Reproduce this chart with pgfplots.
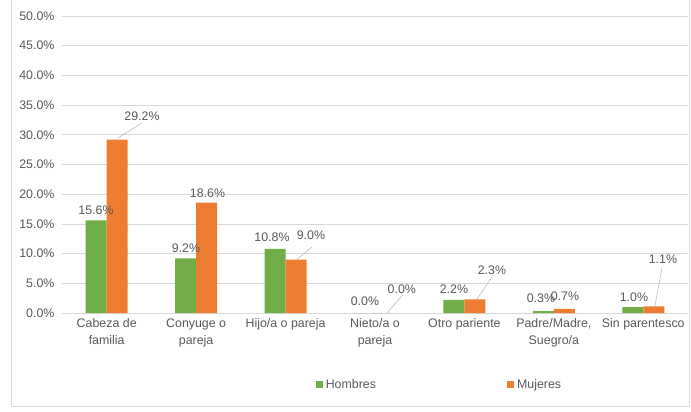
\documentclass[border=0pt]{standalone}
\usepackage{pgfplots}
\pgfplotsset{compat=1.18}
\usepackage{fontspec}
\setmainfont{Liberation Sans}
\definecolor{hom}{HTML}{70AD47}
\definecolor{muj}{HTML}{ED7D31}
\definecolor{txt}{HTML}{595959}
\definecolor{grd}{HTML}{D9D9D9}
\definecolor{lead}{HTML}{A6A6A6}
\begin{document}
\begin{tikzpicture}[font=\fontsize{12.4bp}{15bp}\selectfont]
\begin{axis}[
  scale only axis, width=626bp, height=297bp,
  ybar=0pt, bar width=21bp,
  xmin=-0.5, xmax=6.5, ymin=0, ymax=50,
  xtick={0,...,6},
  xticklabels={{Cabeza de\\familia},{Conyuge o\\pareja},{Hijo/a o pareja},{Nieto/a o\\pareja},{Otro pariente},{Padre/Madre,\\Suegro/a},{Sin parentesco}},
  xticklabel style={align=center, text=txt, anchor=north, yshift=-2bp, font=\fontsize{12.4bp}{17bp}\selectfont},
  ytick={0,5,...,50},
  yticklabel={\pgfmathprintnumber[fixed,fixed zerofill,precision=1]{\tick}\%},
  yticklabel style={text=txt, xshift=-4bp},
  /pgf/number format/assume math mode=true,
  ymajorgrids, grid style={grd, line width=0.8bp},
  major tick length=0pt,
  axis line style={draw=none},
  legend columns=2,
  legend style={at={(rel axis cs:0.603,-0.2424)}, anchor=center, draw=none, fill=none,
    text=txt, /tikz/every even column/.append style={column sep=129bp},
    /tikz/every odd column/.append style={column sep=1bp}},
]
\addplot[fill=hom, draw=none, legend image code/.code={\fill[hom] (0bp,-3.5bp) rectangle (7bp,3.5bp);}]
  coordinates {(0,15.6) (1,9.2) (2,10.8) (3,0.0) (4,2.2) (5,0.3) (6,1.0)};
\addplot[fill=muj, draw=none, legend image code/.code={\fill[muj] (0bp,-3.5bp) rectangle (7bp,3.5bp);}]
  coordinates {(0,29.2) (1,18.6) (2,9.0) (3,0.0) (4,2.3) (5,0.7) (6,1.1)};
\legend{Hombres,Mujeres}

% data labels
\begin{scope}[every node/.style={text=txt, inner sep=0pt}]
\node at (axis cs:-0.12,17.35) {15.6\%};
\node at (axis cs:0.395,33.2) {29.2\%};
\node at (axis cs:0.887,10.94) {9.2\%};
\node at (axis cs:1.127,20.2) {18.6\%};
\node at (axis cs:1.848,12.8) {10.8\%};
\node at (axis cs:2.284,13.13) {9.0\%};
\node at (axis cs:2.888,2.0) {0.0\%};
\node at (axis cs:3.30,4.04) {0.0\%};
\node at (axis cs:3.883,4.04) {2.2\%};
\node at (axis cs:4.308,7.24) {2.3\%};
\node at (axis cs:4.856,2.5) {0.3\%};
\node at (axis cs:5.124,2.8) {0.7\%};
\node at (axis cs:5.896,2.7) {1.0\%};
\node at (axis cs:6.22,9.1) {1.1\%};
\end{scope}
\draw[lead] (axis cs:0.126,29.46) -- (axis cs:0.395,32.0);
\draw[lead] (axis cs:2.126,9.0) -- (axis cs:2.294,11.1);
\draw[lead] (axis cs:3.134,0) -- (axis cs:3.31,3.03);
\draw[lead] (axis cs:4.138,2.3) -- (axis cs:4.308,6.06);
\draw[lead] (axis cs:6.13,1.1) -- (axis cs:6.21,7.74);
\end{axis}
\draw[grd, line width=0.8bp] ([shift={(-51bp,313bp)}]current axis.south west) -- ([shift={(-51bp,-93bp)}]current axis.south west) -- ([shift={(627bp,-93bp)}]current axis.south west) -- ([shift={(627bp,313bp)}]current axis.south west);
\pgfresetboundingbox
\path ([shift={(-62bp,-99bp)}]current axis.south west) rectangle ([shift={(629bp,313bp)}]current axis.south west);
\end{tikzpicture}
\end{document}
